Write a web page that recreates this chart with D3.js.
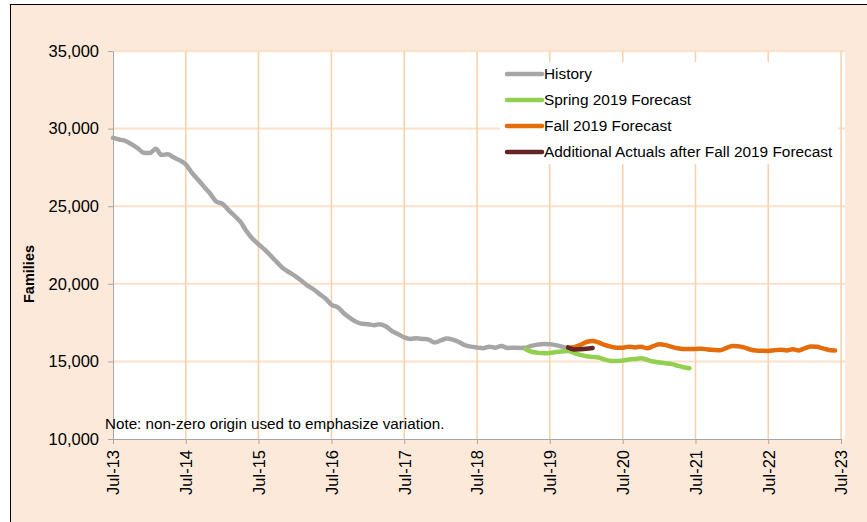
<!DOCTYPE html>
<html>
<head>
<meta charset="utf-8">
<script src="https://d3js.org/d3.v7.min.js"></script>
<style>
  body { margin: 0; background: #ffffff; }
  svg { display: block; font-family: "Liberation Sans", Arial, sans-serif; }
</style>
</head>
<body>
<svg id="chart"></svg>
<script>
// Monthly values, first month of each series given by its start date
var historyStart = new Date(2013, 6, 1);   // Jul-13
var historyValues = [29400, 29300, 29200, 29000, 28750, 28450, 28420, 28700, 28300, 28350,
    28150, 27950, 27700, 27150, 26700, 26250, 25800, 25300, 25150, 24750,
    24400, 24000, 23400, 22900, 22550, 22200, 21800, 21400, 21000, 20750,
    20500, 20200, 19900, 19650, 19350, 19050, 18650, 18500, 18100, 17800,
    17550, 17420, 17400, 17330, 17400, 17250, 16950, 16750, 16550, 16450,
    16490, 16450, 16400, 16220, 16350, 16480, 16400, 16250, 16050, 15950,
    15900, 15850, 15950, 15880, 16000, 15870, 15880, 15870, 15880, 16000,
    16080, 16120, 16100, 16050, 15950, 15840];

var springStart = new Date(2019, 2, 1);    // Mar-19
var springValues = [15780, 15620, 15560, 15520, 15540, 15600, 15640, 15670, 15540, 15420,
    15330, 15290, 15250, 15120, 15030, 15020, 15060, 15120, 15160, 15200,
    15100, 14990, 14930, 14880, 14840, 14720, 14620, 14560];

var fallStart = new Date(2019, 9, 1);      // Oct-19
var fallValues = [15880, 15920, 16060, 16250, 16320, 16230, 16060, 15950, 15880, 15880,
    15950, 15900, 15950, 15840, 15980, 16100, 16050, 15950, 15850, 15800,
    15800, 15800, 15820, 15760, 15740, 15720, 15850, 16000, 15980, 15900,
    15770, 15700, 15680, 15670, 15720, 15750, 15710, 15780, 15710, 15850,
    15960, 15940, 15840, 15740, 15700];

var actualsStart = new Date(2019, 9, 1);   // Oct-19
var actualsValues = [15900, 15770, 15780, 15810, 15860];

var seriesNames = ["History", "Spring 2019 Forecast", "Fall 2019 Forecast",
    "Additional Actuals after Fall 2019 Forecast"];
var seriesColors = ["#a6a6a6", "#92d050", "#e46c0a", "#632523"];

var yTicks = [10000, 15000, 20000, 25000, 30000, 35000];
var xTickYears = [2013, 2014, 2015, 2016, 2017, 2018, 2019, 2020, 2021, 2022, 2023];

var noteText = "Note: non-zero origin used to emphasize variation.";
var yTitle = "Families";

function toPoints(start, values)
{
    return values.map(function (v, i) {
        return {date: d3.timeMonth.offset(start, i), value: v};
    });
}

var series = [
    toPoints(historyStart, historyValues),
    toPoints(springStart, springValues),
    toPoints(fallStart, fallValues),
    toPoints(actualsStart, actualsValues)
];

var width = 867, height = 522;
var plot = {left: 113, top: 51, right: 841, bottom: 439};

var svg = d3.select("#chart")
    .attr("width", width)
    .attr("height", height);

// outer frame
svg.append("rect")
    .attr("x", 10.5).attr("y", 4.5)
    .attr("width", width + 20).attr("height", height + 20)
    .attr("fill", "#fce9da")
    .attr("stroke", "#000")
    .attr("stroke-width", 1);

var x = d3.scaleTime()
    .domain([new Date(2013, 6, 1), new Date(2023, 6, 1)])
    .range([plot.left, plot.right]);

var y = d3.scaleLinear()
    .domain([10000, 35000])
    .range([plot.bottom, plot.top]);

// plot area
svg.append("rect")
    .attr("x", plot.left).attr("y", plot.top)
    .attr("width", plot.right - plot.left + 4)
    .attr("height", plot.bottom - plot.top)
    .attr("fill", "#ffffff");

var xTicks = xTickYears.map(function (yr) { return new Date(yr, 6, 1); });

// gridlines
svg.append("g")
    .selectAll("line")
    .data(yTicks.slice(1))
    .enter().append("line")
    .attr("x1", plot.left).attr("x2", plot.right + 4)
    .attr("y1", function (d) { return y(d); })
    .attr("y2", function (d) { return y(d); })
    .attr("stroke", "#fce1c8")
    .attr("stroke-width", 2);

svg.append("g")
    .selectAll("line")
    .data(xTicks.slice(1))
    .enter().append("line")
    .attr("x1", function (d) { return x(d); })
    .attr("x2", function (d) { return x(d); })
    .attr("y1", plot.top).attr("y2", plot.bottom)
    .attr("stroke", "#f9d2ab")
    .attr("stroke-width", 1.6);

// axes
var yAxis = svg.append("g")
    .attr("transform", "translate(" + plot.left + ",0)")
    .call(d3.axisLeft(y).tickValues(yTicks).tickSize(5).tickSizeOuter(0)
        .tickFormat(d3.format(",")));
yAxis.select(".domain").attr("stroke", "#a6a6a6");
yAxis.selectAll(".tick line").attr("stroke", "#a6a6a6");
yAxis.selectAll("text")
    .attr("x", -14)
    .style("font-size", "16.5px")
    .style("fill", "#000")
    .style("font-family", "Liberation Sans, Arial, sans-serif");

var xAxis = svg.append("g")
    .attr("transform", "translate(0," + plot.bottom + ")")
    .call(d3.axisBottom(x).tickValues(xTicks).tickSize(5).tickSizeOuter(0)
        .tickFormat(d3.timeFormat("%b-%y")));
xAxis.select(".domain").attr("stroke", "#a6a6a6");
xAxis.selectAll(".tick line").attr("stroke", "#a6a6a6");
xAxis.selectAll("text")
    .attr("x", -11)
    .attr("y", 0)
    .attr("dy", ".35em")
    .attr("transform", "rotate(-90)")
    .style("text-anchor", "end")
    .style("font-size", "16.5px")
    .style("fill", "#000")
    .style("font-family", "Liberation Sans, Arial, sans-serif");

// y title
svg.append("text")
    .attr("transform", "translate(34,274) rotate(-90)")
    .attr("text-anchor", "middle")
    .style("font-size", "14.5px")
    .style("font-weight", "bold")
    .text(yTitle);

// legend box
svg.append("rect")
    .attr("x", 500).attr("y", 62)
    .attr("width", 338).attr("height", 102)
    .attr("fill", "#ffffff");

// lines
var line = d3.line()
    .x(function (d) { return x(d.date); })
    .y(function (d) { return y(d.value); })
    .curve(d3.curveMonotoneX);

svg.append("g")
    .selectAll("path")
    .data(series)
    .enter().append("path")
    .attr("d", line)
    .attr("fill", "none")
    .attr("stroke", function (d, i) { return seriesColors[i]; })
    .attr("stroke-width", 4.5)
    .attr("stroke-linejoin", "round")
    .attr("stroke-linecap", "round");

// legend
var legend = svg.append("g")
    .selectAll("g")
    .data(seriesNames)
    .enter().append("g")
    .attr("transform", function (d, i) { return "translate(507," + (74 + i * 26) + ")"; });
legend.append("line")
    .attr("x1", 0).attr("x2", 35)
    .attr("stroke", function (d, i) { return seriesColors[i]; })
    .attr("stroke-width", 4.5)
    .attr("stroke-linecap", "round");
legend.append("text")
    .attr("x", 37)
    .attr("dy", ".35em")
    .style("font-size", "15.4px")
    .text(function (d) { return d; });

// note
svg.append("text")
    .attr("x", 105).attr("y", 429)
    .style("font-size", "15.2px")
    .text(noteText);
</script>
</body>
</html>
